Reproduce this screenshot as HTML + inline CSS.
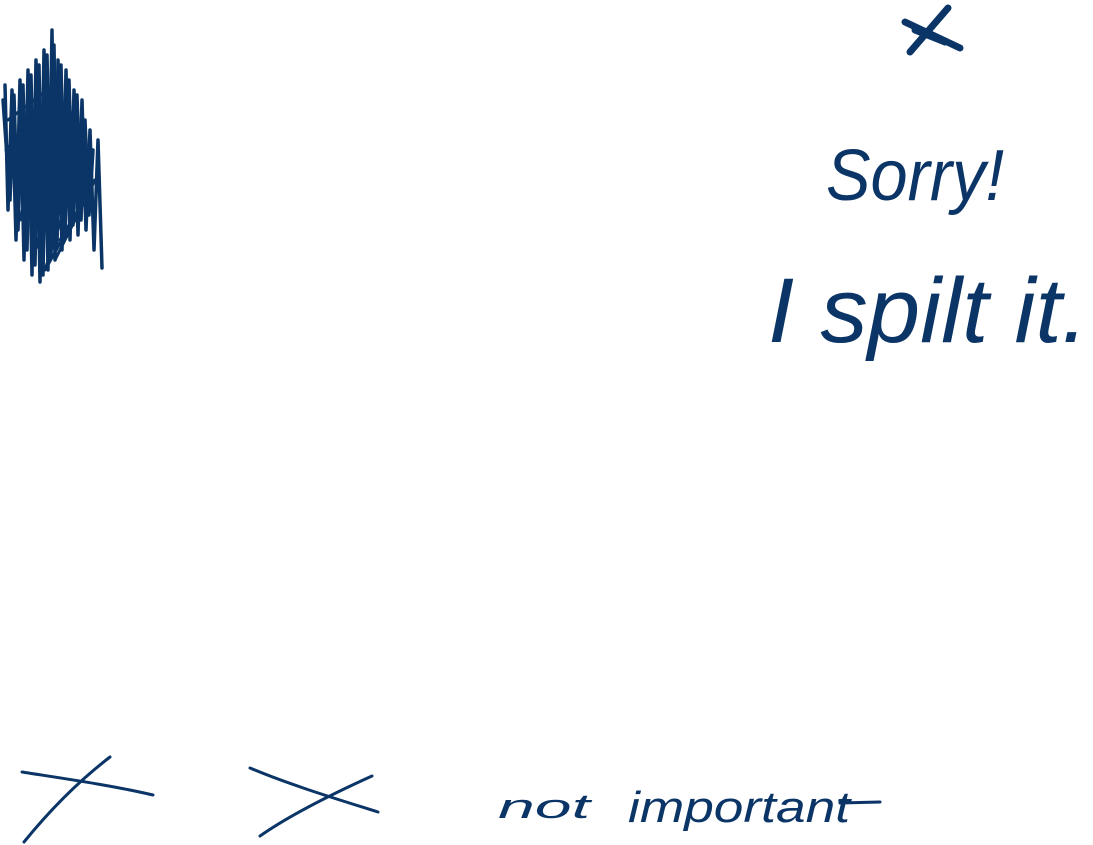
<!DOCTYPE html>
<html><head><meta charset="utf-8"><style>
html,body{margin:0;padding:0;background:#fff;width:1093px;height:845px;overflow:hidden}
</style></head><body>
<svg width="1093" height="845" viewBox="0 0 1093 845" xmlns="http://www.w3.org/2000/svg">
<g fill="none" stroke="#0b3566" stroke-linecap="round" stroke-linejoin="round">
<!-- scribble -->
<path stroke-width="3.5" d="M5 85 L8 210 L12 90 L16 240 L20 80 L24 260 L28 70 L32 275 L36 60 L40 282 L44 50 L48 270 L52 30 L55 260 L58 60 L62 250 L66 70 L70 240 L74 90 L78 235 L82 100 L86 230 L90 130 L94 250 L98 140 L102 268"/>
<path stroke-width="3.5" d="M3 100 L10 200 L14 95 L18 230 L23 85 L27 250 L31 75 L35 265 L39 65 L43 275 L47 55 L51 255 L54 45 L57 245 L61 65 L65 235 L69 80 L73 225 L77 95 L81 220 L85 120 L89 215 L93 150"/>
<path stroke-width="3" d="M6 150 L30 120 L10 180 L50 100 L20 220 L70 130 L35 250 L80 160 L45 270 L90 190 L60 240"/>
<path stroke-width="3" d="M8 120 L60 80 L15 170 L75 110 L25 200 L85 150 L40 230 L95 180 L55 260"/>
<!-- small X -->
<path stroke-width="7" d="M905 22 L960 48 M948 8 L910 52 M915 30 L945 42"/>
<!-- bottom crosses -->
<path stroke-width="3" d="M22 772 C60 778 110 785 153 795 M110 757 C80 780 50 810 24 842"/>
<path stroke-width="3" d="M250 768 C290 785 340 800 378 812 M372 776 C330 795 290 815 260 836"/>
<path stroke-width="3" d="M840 803 L880 802"/>
</g>
<g fill="#0b3566" font-family="Liberation Sans, sans-serif">
<text x="826" y="200" font-size="72" font-style="italic" textLength="178" lengthAdjust="spacingAndGlyphs">Sorry!</text>
<text x="768" y="342" font-size="92" font-style="italic" textLength="320" lengthAdjust="spacingAndGlyphs">I spilt it.</text>
<text x="498" y="818" font-size="34" font-style="italic" textLength="92" lengthAdjust="spacingAndGlyphs">not</text>
<text x="628" y="822" font-size="44" font-style="italic" textLength="222" lengthAdjust="spacingAndGlyphs">important</text>
</g>
</svg>
</body></html>
